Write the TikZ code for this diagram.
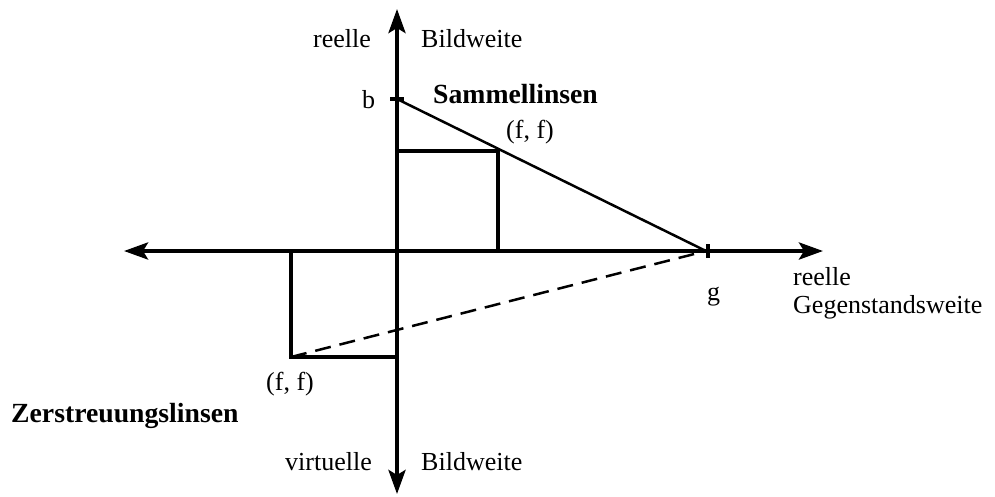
\documentclass[tikz,border=0pt]{standalone}
\usepackage{fontspec}
\setmainfont{Liberation Serif}
\usetikzlibrary{arrows.meta}
\begin{document}
\begin{tikzpicture}[x=1pt,y=-1pt,
  axis/.style={line width=4pt,-{Stealth[length=24pt,width=17pt,inset=5pt]}},
  box/.style={line width=3.6pt},
  thin/.style={line width=2.5pt},
  lbl/.style={inner sep=0pt,anchor=base west,font=\fontsize{26}{30}\selectfont},
  blbl/.style={lbl,font=\fontsize{27.7}{32}\selectfont\bfseries}]
\useasboundingbox (0,0) rectangle (995,496);
\coordinate (O) at (397,251);
\coordinate (top) at (397,9);
\coordinate (bot) at (397,494);
\coordinate (left) at (124,251);
\coordinate (right) at (823,251);
\coordinate (b) at (397,99);
\coordinate (g) at (706,251);
\coordinate (ff1) at (498,151);
\coordinate (ff1y) at (397,151);
\coordinate (ff1x) at (498,251);
\coordinate (ff2) at (291,357);
\coordinate (ff2y) at (397,357);
\coordinate (ff2x) at (291,251);
% axes
\draw[axis] (O) -- (top);
\draw[axis] (O) -- (bot);
\draw[axis] (O) -- (left);
\draw[axis] (O) -- (right);
% ticks
\draw[box] ([xshift=-7pt]b) -- ([xshift=7pt]b);
\draw[box] ([yshift=-7pt,xshift=2pt]g) -- ([yshift=7pt,xshift=2pt]g);
% rectangles
\draw[box] (ff1y) -- (ff1) -- (ff1x);
\draw[box] (ff2x) -- (ff2) -- (ff2y);
% lines
\draw[thin] (b) -- (g);
\draw[thin,dashed,dash pattern=on 16pt off 9pt] (ff2) -- (g);
% labels
\node[lbl] (l1) at (313,47) {reelle};
\node[lbl] (l2) at (421,47) {Bildweite};
\node[lbl] (lb) at (362,108) {b};
\node[blbl] (ls) at (433,103) {Sammellinsen};
\node[lbl] (lf1) at (506,138) {(f, f)};
\node[lbl] (lg) at (707,300) {g};
\node[lbl] (lr) at (793,285) {reelle};
\node[lbl] (lgw) at (793,313) {Gegenstandsweite};
\node[lbl] (lf2) at (266,390) {(f, f)};
\node[blbl] (lz) at (11,422) {Zerstreuungslinsen};
\node[lbl] (lv) at (285,470) {virtuelle};
\node[lbl] (lb2) at (421,470) {Bildweite};
\end{tikzpicture}
\end{document}
